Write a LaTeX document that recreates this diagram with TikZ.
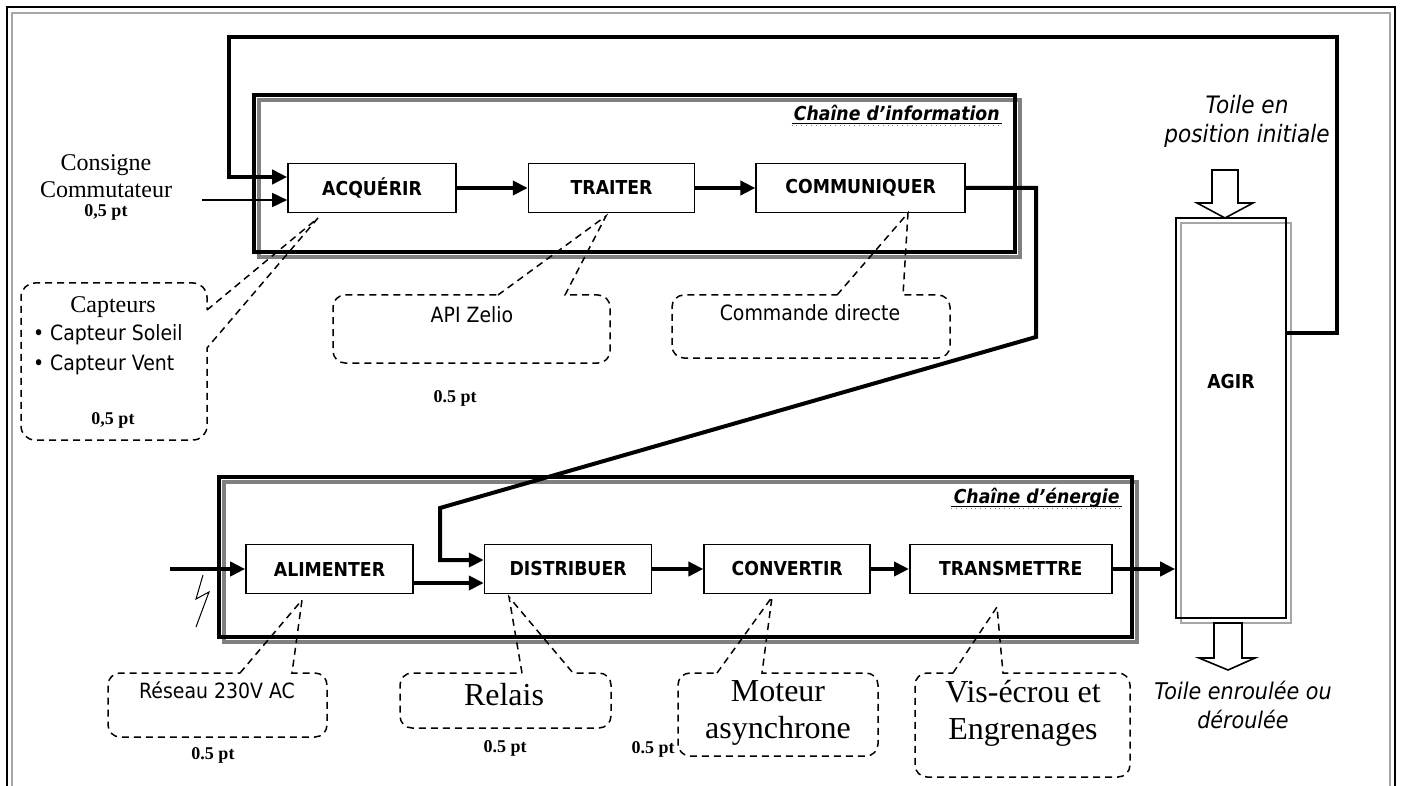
\documentclass[tikz,border=0pt]{standalone}
\usepackage{fontspec}
\setmainfont{Liberation Serif}
\newfontfamily\tahoma[FakeStretch=0.9]{DejaVu Sans}
\usetikzlibrary{positioning}
\usetikzlibrary{arrows.meta}

\tikzset{
  bloc/.style={draw, line width=0.8pt, minimum height=24.5pt, inner sep=0pt,
    font=\tahoma\bfseries\fontsize{9.6}{11}\selectfont},
  flow/.style={line width=2pt},
  bulle/.style={line width=0.75pt, dash pattern=on 3.5pt off 2.5pt},
  note/.style={font=\tahoma\fontsize{10.5}{15}\selectfont, align=center},
  serif/.style={font=\fontsize{12}{13.5}\selectfont, align=center},
  grand/.style={font=\fontsize{16}{18.5}\selectfont, align=center},
  pts/.style={font=\bfseries\fontsize{9}{10}\selectfont},
  titre/.style={font=\tahoma\bfseries\itshape\fontsize{9.6}{11}\selectfont, anchor=east, inner sep=1pt},
  toile/.style={font=\tahoma\itshape\fontsize{12}{14.5}\selectfont, align=center},
}

% bulle pointillee, pointe sur le bord haut
\newcommand{\bulletop}[7]{%
  \draw[bulle] (#5,#2) -- (#7) -- (#6,#2) [rounded corners=6pt] -- (#3,#2) -- (#3,#4) -- (#1,#4) -- (#1,#2) -- (#5,#2);}

\begin{document}
\begin{tikzpicture}[x=0.5pt, y=-0.5pt, >={Triangle[length=7.5pt,width=7pt]}]
  \useasboundingbox (0,0) rectangle (1403,786);
  \clip (0,0) rectangle (1403,786);
  % cadre de la page
  \draw[line width=0.8pt] (7,7) rectangle (1395,800);
  \draw[gray!70, line width=0.8pt] (12,13) rectangle (1390,800);

  % chaine d'information
  \draw[gray, line width=2pt] (259,100) rectangle (1020,257);
  \draw[line width=2pt] (254,95) rectangle (1015,252);
  \node[titre] (tinfo) at (1002,113) {Chaîne d’information};
  \draw[line width=0.5pt] ([yshift=-1.5pt]tinfo.base west) -- ([yshift=-1.5pt]tinfo.base east);
  \draw[gray, line width=0.4pt, dotted] ([yshift=-2.6pt]tinfo.base west) -- ([yshift=-2.6pt]tinfo.base east);
  \node[bloc, minimum width=84pt] (acq) at (372,188) {ACQUÉRIR};
  \node[bloc, minimum width=83pt, right=35.5pt of acq] (tra) {TRAITER};
  \node[bloc, minimum width=104.5pt, right=30pt of tra] (com) {COMMUNIQUER};

  % chaine d'energie
  \draw[gray, line width=2pt] (224,482) rectangle (1137,642);
  \draw[line width=2pt] (219,477) rectangle (1132,637);
  \node[titre] (tener) at (1122,498) {Chaîne d’énergie};
  \draw[line width=0.5pt] ([yshift=-1.5pt]tener.base west) -- ([yshift=-1.5pt]tener.base east);
  \draw[gray, line width=0.4pt, dotted] ([yshift=-2.6pt]tener.base west) -- ([yshift=-2.6pt]tener.base east);
  \node[bloc, minimum width=83.5pt] (ali) at (329.5,569) {ALIMENTER};
  \node[bloc, minimum width=83.5pt, right=35pt of ali] (dis) {DISTRIBUER};
  \node[bloc, minimum width=83pt, right=25.5pt of dis] (con) {CONVERTIR};
  \node[bloc, minimum width=101pt, right=19pt of con] (trm) {TRANSMETTRE};

  % agir
  \draw[gray!70, line width=0.8pt] (1181,223) rectangle (1291,623);
  \node[draw, line width=0.8pt, minimum width=55pt, minimum height=200pt, inner sep=0pt] (agir) at (1231,418) {};
  \node[font=\tahoma\bfseries\fontsize{9.6}{11}\selectfont] (agirtxt) at (1231,382) {AGIR};
  \draw[line width=0.8pt, fill=white] (1212,170) -- (1238,170) -- (1238,203) -- (1253,203) -- (1225,218) -- (1197,203) -- (1212,203) -- cycle;
  \draw[line width=0.8pt, fill=white] (1214,623) -- (1242,623) -- (1242,658) -- (1255,658) -- (1228,670) -- (1199,658) -- (1214,658) -- cycle;
  \node[toile] (init) at (1247,121) {Toile en\\position initiale};
  \node[toile, font=\tahoma\itshape\fontsize{11.5}{14.5}\selectfont] (fin) at (1243,705) {Toile enroulée ou\\déroulée};

  % liaisons
  \coordinate (retourD) at (1337,37);
  \coordinate (retourG) at (229,37);
  \draw[flow,->] ([yshift=42.5pt]agir.east) -| (retourD) -- (retourG) |- ([yshift=5.5pt]acq.west);
  \coordinate (consigne) at (202,200);
  \draw[line width=0.8pt,->] (consigne) -- (consigne -| acq.west);
  \draw[flow,->] (acq) -- (tra);
  \draw[flow,->] (tra) -- (com);
  \coordinate (descente) at (1036,337);
  \coordinate (montee) at (440,508);
  \draw[flow,->] (com.east) -| (descente) -- (montee) |- ([yshift=4.5pt]dis.west);
  \coordinate (secteur) at (170,569);
  \draw[flow,->] (secteur) -- (ali);
  \draw[flow,->] ([yshift=-7pt]ali.east) -- ([yshift=-7pt]dis.west);
  \draw[flow,->] (dis) -- (con);
  \draw[flow,->] (con) -- (trm);
  \draw[flow,->] (trm) -- (trm -| agir.west);
  \draw[line width=0.5pt] (203,575) -- (196,599) -- (209,592) -- (196,627);

  % bulles
  \draw[bulle] (207,310) -- (318,218) -- (207,348) [rounded corners=7pt] -- (207,440) -- (21,440) -- (21,283) -- (207,283) -- (207,310);
  \bulletop{333}{295}{610}{363}{498}{565}{606,216}
  \bulletop{672}{295}{950}{358}{837}{903}{908,213}
  \bulletop{108}{673}{327}{737}{240}{292}{302,600}
  \bulletop{400}{673}{611}{728}{522}{573}{509,597}
  \bulletop{678}{673}{878}{756}{717}{762}{772,597}
  \bulletop{915}{673}{1130}{777}{953}{1003}{997,607}

  % textes
  \node[serif] (consignetxt) at (106,176) {Consigne\\Commutateur};
  \node[pts] (pt1) at (106,212) {0,5 pt};
  \node[serif] (capteurs) at (113,307) {Capteurs};
  \node[note, align=left, anchor=west] (liste) at (26,350) {• Capteur Soleil\\• Capteur Vent};
  \node[pts] (pt2) at (113,420) {0,5 pt};
  \node[note] (api) at (472,315) {API Zelio};
  \node[pts] (pt3) at (455,398) {0.5 pt};
  \node[note] (cmd) at (810,313) {Commande directe};
  \node[note] (reseau) at (217,690) {Réseau 230V AC};
  \node[pts] (pt4) at (213,755) {0.5 pt};
  \node[grand] (relais) at (504,695) {Relais};
  \node[pts] (pt5) at (505,748) {0.5 pt};
  \node[grand] (moteur) at (778,713) {Moteur\\asynchrone};
  \node[pts] (pt6) at (653,749) {0.5 pt};
  \node[grand] (vis) at (1023,713) {Vis-écrou et\\Engrenages};
\end{tikzpicture}
\end{document}
